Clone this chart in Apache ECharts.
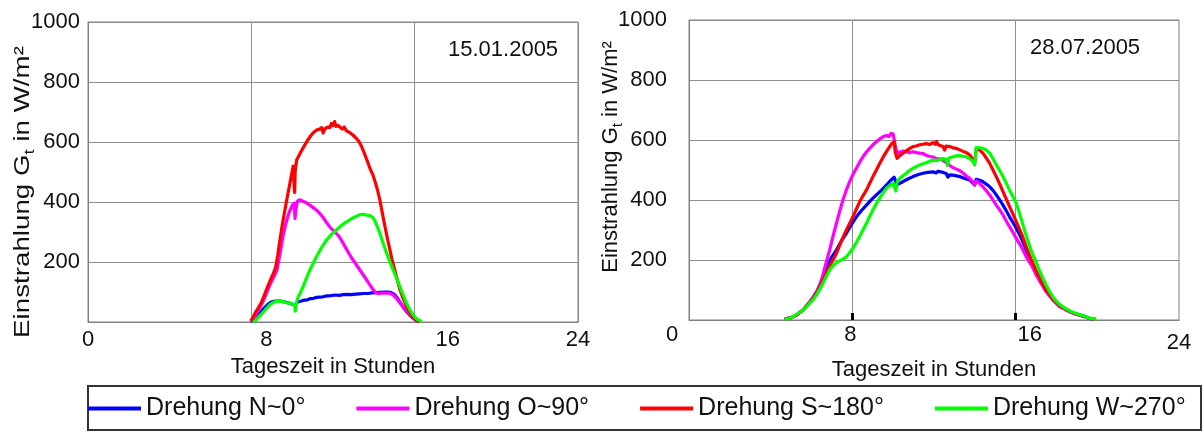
<!DOCTYPE html>
<html>
<head>
<meta charset="utf-8">
<script src="https://cdn.jsdelivr.net/npm/echarts@6/dist/echarts.min.js"></script>
<style>
  html, body { margin: 0; padding: 0; background: #ffffff; }
  #chart { width: 1204px; height: 432px; }
</style>
</head>
<body>
<div id="chart"></div>
<script>
// Irradiance on a rotated surface for four orientations, two sample days.
const seriesNames = ['Drehung N~0°', 'Drehung O~90°', 'Drehung S~180°', 'Drehung W~270°'];
const panelDates = ['15.01.2005', '28.07.2005'];
const xTicks = [0, 8, 16, 24];
const yTicks = [0, 200, 400, 600, 800, 1000];
const xTitle = 'Tageszeit in Stunden';

// 15.01.2005 — [hour of day, W/m²]
const janN = [[7.95,2],[8.1,6],[8.2,12],[8.35,24],[8.5,36],[8.65,48],[8.8,58],[8.95,66],[9.1,69],[9.25,70],[9.4,70],[9.55,68],[9.7,66],[9.85,63],[10.0,60],[10.12,57],[10.2,62],[10.3,68],[10.45,70],[10.6,73],[10.75,74],[10.9,78],[11.05,79],[11.2,82],[11.35,83],[11.5,84],[11.7,87],[11.9,88],[12.1,90],[12.3,89],[12.5,91],[12.7,92],[12.9,91],[13.1,93],[13.3,94],[13.5,95],[13.7,95],[13.9,97],[14.1,98],[14.3,99],[14.5,100],[14.7,100],[14.85,98],[15.0,92],[15.15,80],[15.3,64],[15.45,48],[15.6,35],[15.8,20],[16.0,9],[16.2,2]];
const janO = [[7.95,2],[8.1,10],[8.25,28],[8.4,45],[8.6,72],[8.8,105],[8.95,130],[9.1,150],[9.25,172],[9.4,225],[9.55,285],[9.7,330],[9.85,365],[10.0,388],[10.1,396],[10.14,345],[10.18,372],[10.25,402],[10.35,407],[10.5,404],[10.7,397],[10.9,388],[11.1,378],[11.3,366],[11.5,350],[11.7,330],[11.9,312],[12.1,300],[12.3,285],[12.5,262],[12.7,238],[12.9,215],[13.1,195],[13.3,175],[13.5,155],[13.7,135],[13.9,114],[14.1,97],[14.25,95],[14.4,97],[14.6,96],[14.8,96],[14.95,90],[15.1,80],[15.25,67],[15.4,54],[15.55,42],[15.7,30],[15.85,18],[16.05,8],[16.26,1]];
const janS = [[7.97,4],[8.06,12],[8.2,32],[8.35,48],[8.5,66],[8.65,92],[8.8,118],[8.95,142],[9.1,165],[9.2,185],[9.3,225],[9.4,273],[9.52,325],[9.65,375],[9.77,420],[9.89,462],[9.98,495],[10.05,520],[10.09,468],[10.12,432],[10.15,505],[10.22,540],[10.32,553],[10.45,570],[10.6,588],[10.75,605],[10.9,620],[11.05,632],[11.2,640],[11.35,643],[11.45,648],[11.52,630],[11.6,644],[11.75,650],[11.85,648],[11.92,662],[12.0,655],[12.08,668],[12.15,652],[12.25,655],[12.35,649],[12.45,643],[12.55,650],[12.65,638],[12.8,632],[12.95,625],[13.1,615],[13.25,604],[13.4,585],[13.55,560],[13.7,533],[13.85,505],[13.95,492],[14.05,470],[14.18,440],[14.3,405],[14.42,362],[14.54,320],[14.66,280],[14.79,240],[14.9,205],[15.03,172],[15.15,140],[15.28,108],[15.44,78],[15.6,52],[15.75,32],[15.93,15],[16.1,5],[16.26,1]];
const janW = [[8.1,0],[8.2,4],[8.35,16],[8.5,27],[8.65,38],[8.8,50],[8.95,60],[9.1,66],[9.25,70],[9.4,69],[9.55,68],[9.7,65],[9.85,63],[10.0,60],[10.12,57],[10.16,36],[10.2,62],[10.3,84],[10.42,100],[10.55,120],[10.7,146],[10.87,173],[11.03,196],[11.2,218],[11.44,248],[11.68,273],[11.93,292],[12.18,308],[12.42,322],[12.67,334],[12.92,345],[13.16,353],[13.32,358],[13.48,359],[13.65,356],[13.8,355],[13.95,348],[14.05,338],[14.17,318],[14.3,295],[14.46,262],[14.63,229],[14.79,200],[14.95,173],[15.12,145],[15.28,117],[15.44,90],[15.6,63],[15.77,40],[15.93,23],[16.1,10],[16.34,1]];

// 28.07.2005 — [hour of day, W/m²]
const julN = [[4.69,2],[5.0,8],[5.3,18],[5.6,34],[5.9,58],[6.1,78],[6.3,100],[6.5,132],[6.73,170],[6.95,205],[7.22,233],[7.45,262],[7.71,289],[7.95,318],[8.2,344],[8.45,365],[8.69,383],[8.95,402],[9.18,417],[9.42,432],[9.67,450],[9.87,465],[10.05,476],[10.1,470],[10.19,450],[10.3,455],[10.48,461],[10.72,470],[10.97,478],[11.2,484],[11.46,489],[11.7,492],[11.95,494],[12.1,490],[12.2,496],[12.44,492],[12.6,488],[12.68,476],[12.77,484],[13.0,482],[13.26,478],[13.5,472],[13.75,467],[13.99,450],[14.07,469],[14.24,466],[14.4,461],[14.56,453],[14.73,444],[14.89,432],[15.05,417],[15.22,400],[15.38,383],[15.54,364],[15.7,344],[15.87,325],[16.03,306],[16.28,272],[16.52,233],[16.77,194],[17.01,160],[17.26,126],[17.5,97],[17.83,68],[18.15,46],[18.4,37],[18.64,28],[18.9,21],[19.3,13],[19.6,6],[19.9,2]];
const julO = [[4.69,2],[5.0,8],[5.3,18],[5.6,35],[5.9,60],[6.1,76],[6.3,100],[6.45,125],[6.56,150],[6.72,192],[6.89,233],[7.05,278],[7.22,322],[7.38,362],[7.54,400],[7.7,432],[7.87,461],[8.03,485],[8.2,506],[8.36,526],[8.52,544],[8.69,560],[8.85,572],[9.01,584],[9.18,594],[9.34,603],[9.5,611],[9.67,615],[9.8,612],[9.9,622],[10.0,620],[10.07,625],[10.12,575],[10.19,556],[10.32,560],[10.48,563],[10.64,561],[10.8,558],[10.97,561],[11.13,558],[11.3,556],[11.46,555],[11.62,549],[11.79,545],[11.95,544],[12.1,538],[12.28,537],[12.44,532],[12.6,524],[12.77,515],[12.93,508],[13.1,503],[13.26,498],[13.42,490],[13.58,480],[13.75,472],[13.9,460],[13.99,450],[14.07,464],[14.24,455],[14.4,444],[14.56,431],[14.73,417],[14.89,400],[15.05,383],[15.22,367],[15.38,350],[15.54,330],[15.7,311],[15.87,292],[16.03,272],[16.28,244],[16.52,211],[16.77,183],[17.01,150],[17.26,120],[17.5,94],[17.83,66],[18.15,45],[18.4,36],[18.64,28],[18.9,21],[19.3,13],[19.6,6],[19.9,2]];
const julS = [[4.69,2],[5.0,8],[5.3,18],[5.6,34],[5.9,57],[6.1,74],[6.3,95],[6.5,122],[6.73,156],[6.97,190],[7.22,222],[7.46,262],[7.71,300],[7.87,322],[8.03,344],[8.2,370],[8.36,394],[8.52,414],[8.69,433],[8.85,456],[9.01,478],[9.18,500],[9.34,522],[9.5,542],[9.67,561],[9.8,575],[9.93,588],[10.05,594],[10.1,560],[10.19,539],[10.32,548],[10.48,556],[10.64,564],[10.8,571],[10.97,578],[11.13,580],[11.3,584],[11.46,586],[11.62,588],[11.79,585],[11.95,591],[12.05,586],[12.12,595],[12.2,584],[12.28,583],[12.44,578],[12.52,566],[12.6,580],[12.77,578],[12.93,574],[13.1,572],[13.26,567],[13.42,562],[13.58,558],[13.75,550],[13.9,536],[13.99,522],[14.07,572],[14.24,566],[14.4,556],[14.56,540],[14.73,522],[14.89,500],[15.05,478],[15.22,453],[15.38,428],[15.54,403],[15.7,378],[15.87,353],[16.03,328],[16.28,289],[16.52,244],[16.77,200],[17.01,163],[17.26,128],[17.5,98],[17.83,70],[18.15,48],[18.4,38],[18.64,29],[18.9,22],[19.3,14],[19.6,6],[19.9,2]];
const julW = [[4.69,2],[4.9,5],[5.09,11],[5.3,20],[5.58,33],[5.75,44],[5.91,56],[6.08,68],[6.24,83],[6.4,102],[6.56,122],[6.73,146],[6.89,167],[7.05,181],[7.22,191],[7.38,197],[7.55,203],[7.71,211],[7.87,224],[8.03,239],[8.2,258],[8.36,278],[8.52,300],[8.69,322],[8.85,345],[9.01,367],[9.17,387],[9.34,406],[9.5,423],[9.67,439],[9.83,448],[9.99,456],[10.08,458],[10.13,430],[10.2,462],[10.32,472],[10.48,481],[10.64,489],[10.8,498],[10.97,506],[11.13,511],[11.3,517],[11.46,521],[11.62,524],[11.79,529],[11.95,533],[12.12,531],[12.28,535],[12.44,538],[12.6,535],[12.66,515],[12.73,540],[12.93,544],[13.1,547],[13.26,548],[13.42,546],[13.58,544],[13.75,538],[13.91,528],[13.99,517],[14.07,575],[14.24,574],[14.4,572],[14.56,566],[14.73,556],[14.89,538],[15.05,517],[15.22,498],[15.38,478],[15.54,456],[15.7,433],[15.87,411],[16.03,389],[16.16,362],[16.28,335],[16.4,308],[16.52,280],[16.65,254],[16.77,230],[16.89,210],[17.01,192],[17.13,170],[17.26,150],[17.38,132],[17.5,115],[17.66,95],[17.83,76],[18.0,62],[18.15,52],[18.4,40],[18.64,31],[18.9,23],[19.1,18],[19.3,15],[19.45,10],[19.6,7],[19.8,4],[19.95,2]];

const panels = [[janN, janO, janS, janW], [julN, julO, julS, julW]];

// ---- styling ----
const FONT = "'Liberation Sans', Arial, Helvetica, sans-serif";
const TEXT = '#111111';
const seriesColors = ['#0000ff', '#ff00ff', '#ff0000', '#00ff00'];
const frameColor = '#808080';
const gridColor = '#8f8f8f';

// Each panel: plot rectangle, tick-label nudges [dx, dy] per x tick, y label gap.
const layout = [
  { left: 88,  top: 22, xLabelMargin: 7, yLabelMargin: 8,  nameGap: 29,
    xShift: [[0, 0], [15, 0], [33, 0], [0, 0]], ticks: false },
  { left: 689, top: 20, xLabelMargin: 4, yLabelMargin: 22, nameGap: 32,
    xShift: [[-17, 0], [-2, 0], [14, 0], [0, 8]], ticks: true }
];
const plotW = 490, plotH = 300;

function xLabelRich(shift) {
  const rich = {};
  shift.forEach((s, i) => {
    const dx = s[0], dy = s[1];
    rich['t' + i] = {
      fontSize: 22, fontFamily: FONT, color: TEXT,
      padding: [dy, dx < 0 ? -2 * dx : 0, 0, dx > 0 ? 2 * dx : 0]
    };
  });
  return rich;
}

const grids = layout.map(l => ({
  left: l.left, top: l.top, width: plotW, height: plotH,
  show: true, borderColor: frameColor, borderWidth: 1,
  backgroundColor: 'transparent', containLabel: false, outerBoundsMode: 'none'
}));

const xAxes = layout.map((l, gi) => ({
  type: 'value', gridIndex: gi,
  min: xTicks[0], max: xTicks[xTicks.length - 1], interval: xTicks[1] - xTicks[0],
  name: xTitle, nameLocation: 'middle', nameGap: l.nameGap,
  nameTextStyle: { fontSize: 22, fontFamily: FONT, color: TEXT },
  axisLine: { show: true, onZero: false, lineStyle: { color: frameColor, width: 1 } },
  axisTick: l.ticks
    ? { show: true, inside: true, length: 7, customValues: [xTicks[1], xTicks[2]],
        lineStyle: { color: '#000000', width: 3 } }
    : { show: false },
  axisLabel: {
    margin: l.xLabelMargin,
    formatter: v => '{t' + xTicks.indexOf(v) + '|' + v + '}',
    rich: xLabelRich(l.xShift)
  },
  splitLine: { show: true, lineStyle: { color: gridColor, width: 1 } }
}));

const yAxes = layout.map((l, gi) => ({
  type: 'value', gridIndex: gi,
  min: yTicks[0], max: yTicks[yTicks.length - 1], interval: yTicks[1] - yTicks[0],
  axisLine: { show: true, lineStyle: { color: frameColor, width: 1 } },
  axisTick: { show: false },
  axisLabel: { showMinLabel: false, margin: l.yLabelMargin, fontSize: 22, fontFamily: FONT, color: TEXT,
               formatter: v => String(v) },
  splitLine: { show: true, lineStyle: { color: gridColor, width: 1 } }
}));

const series = [];
panels.forEach((sets, gi) => {
  sets.forEach((data, si) => {
    series.push({
      type: 'line', name: seriesNames[si], xAxisIndex: gi, yAxisIndex: gi,
      data: data, symbol: 'none', showSymbol: false, smooth: false, clip: true,
      color: seriesColors[si],
      lineStyle: { width: 3.2, color: seriesColors[si], join: 'round' },
      z: 2 + si
    });
  });
});

// y-axis title with subscript t and superscript ²
const yTitleRich = {
  n: { fontSize: 22, fontFamily: FONT, fill: TEXT, color: TEXT },
  s: { fontSize: 15, fontFamily: FONT, fill: TEXT, color: TEXT, padding: [13, 0, 0, 0] }
};
const yTitleText = '{n|Einstrahlung G}{s|t}{n| in W/m²}';

const graphics = [
  { type: 'text', x: 23, y: 192, rotation: Math.PI / 2, scaleX: 1.26, scaleY: 1,
    style: { text: yTitleText, rich: yTitleRich, align: 'center', verticalAlign: 'middle', fill: TEXT } },
  { type: 'text', x: 611, y: 157, rotation: Math.PI / 2,
    style: { text: yTitleText, rich: yTitleRich, align: 'center', verticalAlign: 'middle', fill: TEXT } },
  { type: 'text', x: 448, y: 50,
    style: { text: panelDates[0], font: '22px ' + FONT, fill: TEXT, align: 'left', verticalAlign: 'middle' } },
  { type: 'text', x: 1030, y: 48,
    style: { text: panelDates[1], font: '22px ' + FONT, fill: TEXT, align: 'left', verticalAlign: 'middle' } },
  { type: 'rect', z: -1, shape: { x: 88, y: 386, width: 1113, height: 44 },
    style: { fill: '#ffffff', stroke: '#333333', lineWidth: 2 } }
];

const chart = echarts.init(document.getElementById('chart'), null, { renderer: 'canvas' });
chart.setOption({
  animation: false,
  backgroundColor: '#ffffff',
  textStyle: { fontFamily: FONT },
  grid: grids,
  xAxis: xAxes,
  yAxis: yAxes,
  legend: {
    data: seriesNames, left: 88, top: 396, padding: 0,
    icon: 'rect', itemWidth: 53, itemHeight: 4, itemGap: 51,
    textStyle: { fontSize: 25, fontFamily: FONT, color: TEXT },
    selectedMode: false
  },
  graphic: graphics,
  series: series
});
</script>
</body>
</html>
